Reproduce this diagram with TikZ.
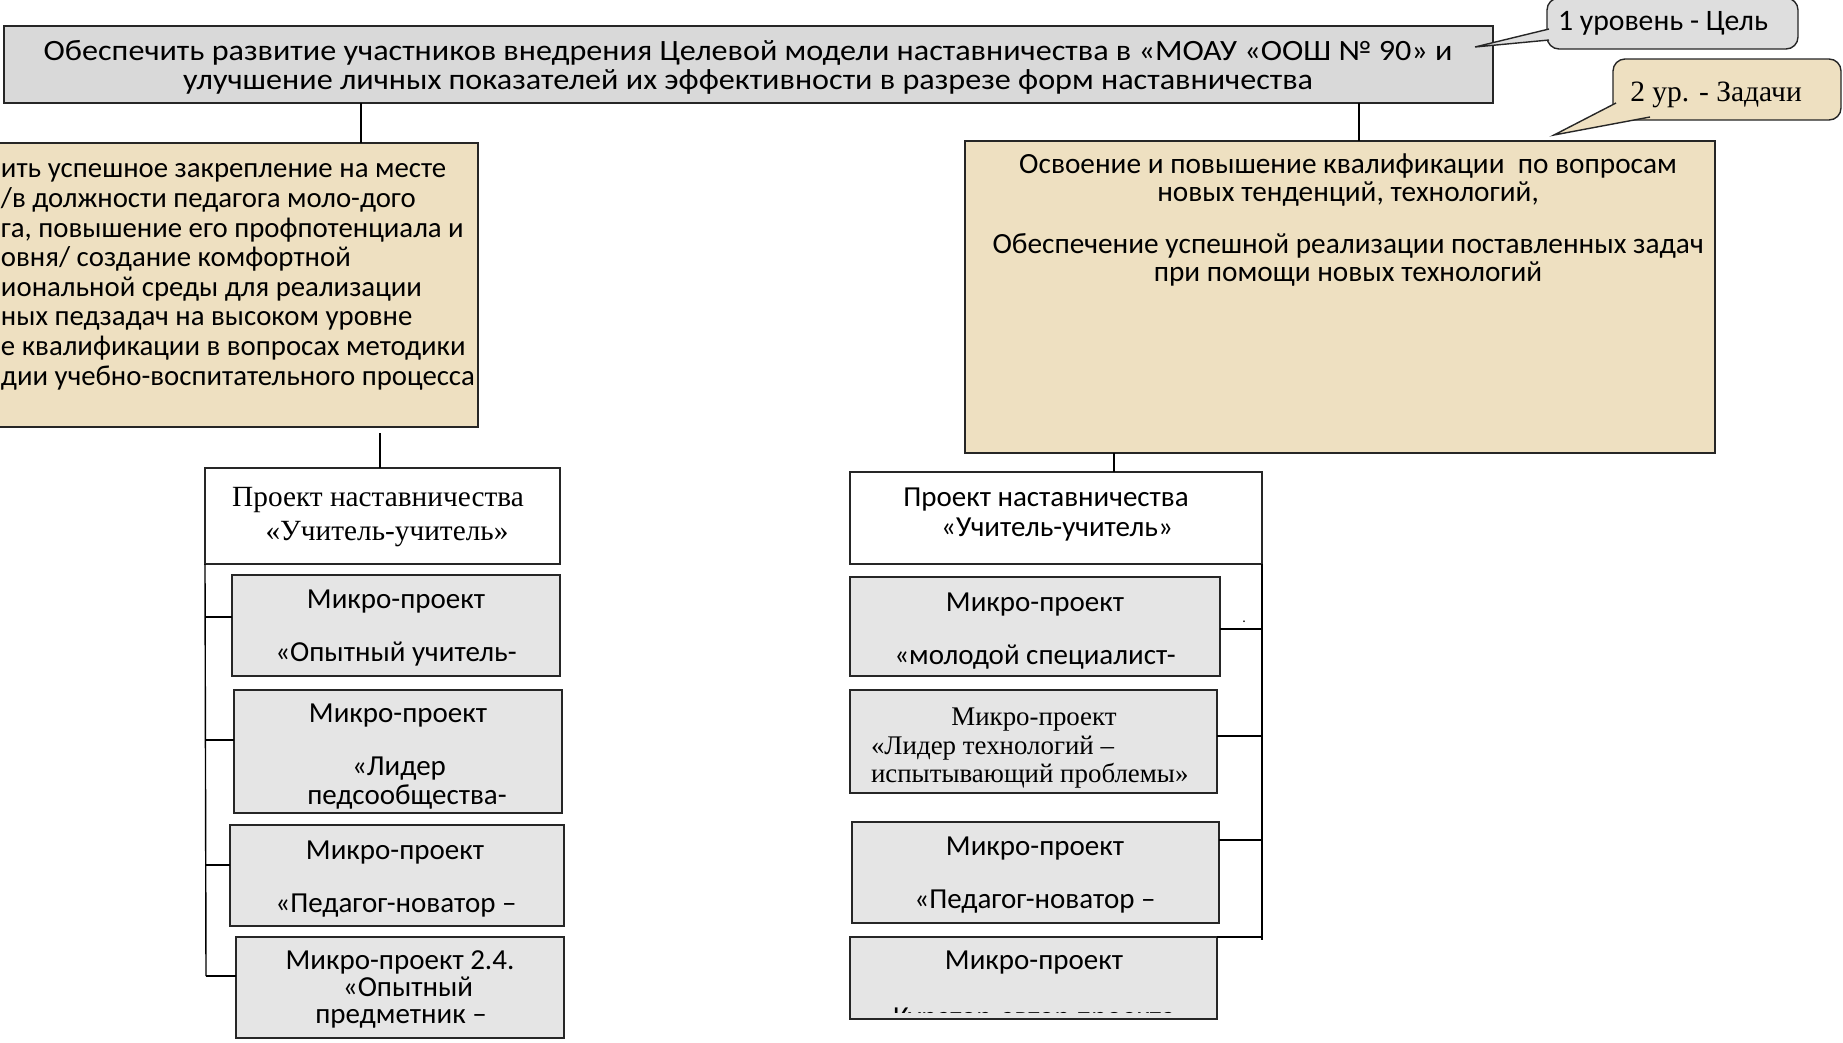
\documentclass[tikz,border=0pt]{standalone}
\usepackage{fontspec}
\setmainfont{Carlito}
\newfontfamily\tnr{Liberation Serif}
\newfontfamily\widecal[FakeStretch=1.09]{Carlito}
\definecolor{parch}{RGB}{238,224,193}
\definecolor{granite}{RGB}{229,229,229}
\definecolor{goalgray}{RGB}{217,217,217}
\definecolor{calgray}{RGB}{222,222,222}
\tikzset{
  bx/.style={draw=black!85, line width=1.4pt, inner sep=0pt, outer sep=0pt, anchor=north west},
  cn/.style={draw=black, line width=1.4pt},
  t/.style={inner sep=0pt, outer sep=0pt, anchor=base},
  tw/.style={inner sep=0pt, outer sep=0pt, anchor=base west},
  fgoal/.style={font=\widecal\fontsize{29.5}{28.5}\selectfont},
  ftr/.style={font=\fontsize{29.3}{27.5}\selectfont},
  ftask/.style={font=\fontsize{28.8}{30}\selectfont},
  fmic/.style={font=\fontsize{29}{31}\selectfont},
  fser/.style={font=\tnr\fontsize{29.3}{32}\selectfont},
  fser2/.style={font=\tnr\fontsize{26.9}{29}\selectfont},
}
\begin{document}
\begin{tikzpicture}[x=1pt,y=-1pt]
\useasboundingbox (0,0) rectangle (1843,1042);
\clip (0,0) rectangle (1843,1042);
\fill[white] (0,0) rectangle (1843,1042);

% named helper coordinates
\coordinate (xL) at (361,0);
\coordinate (xR) at (1359,0);
\coordinate (gapL) at (380,433);
\coordinate (xR2) at (1114,0);
\coordinate (bL1) at (206,617);
\coordinate (bL2) at (206,740);
\coordinate (bL3) at (206,865);
\coordinate (bL4) at (206,976);
\coordinate (bR1) at (1262,629);
\coordinate (bR2) at (1262,736);
\coordinate (bR3) at (1262,840);
\coordinate (bR4) at (1262,937);
\coordinate (spR) at (1262,940);

% boxes
\node[bx, fill=goalgray, minimum width=1489pt, minimum height=77pt] (goal) at (4,26) {};
\node[bx, fill=parch, minimum width=508pt, minimum height=284pt] (taskL) at (-30,143) {};
\node[bx, fill=parch, minimum width=750pt, minimum height=312pt] (taskR) at (965,141) {};
\node[bx, fill=white, minimum width=355pt, minimum height=96pt] (projL) at (205,468) {};
\node[bx, fill=white, minimum width=412pt, minimum height=92pt] (projR) at (850,472) {};

% connectors
\draw[cn] (goal.south -| xL) -- (taskL.north -| xL);
\draw[cn] (goal.south -| xR) -- (taskR.north -| xR);
\draw[cn] (gapL) -- (gapL |- projL.north);
\draw[cn] (taskR.south -| xR2) -- (projR.north -| xR2);
\draw[cn] (projL.south west) -- (bL4);
\draw[cn] (projR.south east) -- (spR);

% micro boxes
\node[bx, fill=granite, minimum width=328pt, minimum height=101pt] (L1) at (232,575) {};
\node[bx, fill=granite, minimum width=328pt, minimum height=123pt] (L2) at (234,690) {};
\node[bx, fill=granite, minimum width=334pt, minimum height=101pt] (L3) at (230,825) {};
\node[bx, fill=granite, minimum width=328pt, minimum height=101pt] (L4) at (236,937) {};
\node[bx, fill=granite, minimum width=370pt, minimum height=99pt] (R1) at (850,577) {};
\node[bx, fill=granite, minimum width=367pt, minimum height=103pt] (R2) at (850,690) {};
\node[bx, fill=granite, minimum width=367pt, minimum height=101pt] (R3) at (852,822) {};
\node[bx, fill=granite, minimum width=367pt, minimum height=82pt] (R4) at (850,937) {};

\draw[cn] (bL1) -- (bL1 -| L1.west);
\draw[cn] (bL2) -- (bL2 -| L2.west);
\draw[cn] (bL3) -- (bL3 -| L3.west);
\draw[cn] (bL4) -- (bL4 -| L4.west);
\draw[cn] (bR1) -- (bR1 -| R1.east);
\draw[cn] (bR2) -- (bR2 -| R2.east);
\draw[cn] (bR3) -- (bR3 -| R3.east);
\draw[cn] (bR4) -- (bR4 -| R4.east);

% callouts
\node[bx, rounded corners=12pt, fill=calgray, minimum width=251pt, minimum height=51pt] (c1) at (1547,-2) {};
\coordinate (c1a) at (1549,29);
\coordinate (c1tip) at (1475,47);
\coordinate (c1b) at (1549,40);
\fill[calgray] (c1a) -- (c1tip) -- (c1b) -- cycle;
\draw[line width=1.4pt, black!85] (c1a) -- (c1tip) -- (c1b);
\node[t, font=\fontsize{29.7}{32}\selectfont] (c1t) at (1663,30) {1 уровень - Цель};

\node[bx, rounded corners=12pt, fill=parch, minimum width=228pt, minimum height=61pt] (c2) at (1613,59) {};
\coordinate (c2a) at (1616,103);
\coordinate (c2tip) at (1554,135);
\coordinate (c2b) at (1650,117);
\fill[parch] (c2a) -- (c2tip) -- (c2b) -- cycle;
\draw[line width=1.4pt, black!85] (c2a) -- (c2tip) -- (c2b);
\node[t, font=\tnr\fontsize{29.5}{32}\selectfont] (c2t) at (1716,101) {2 ур. - Задачи};

% goal text (two lines, one node; base = last line)
\node[t, fgoal, align=center] (g1) at (748,89) {Обеспечить развитие участников внедрения Целевой модели наставничества в «МОАУ «ООШ № 90» и\\улучшение личных показателей их эффективности в разрезе форм наставничества};

% task L text
\node[tw, ftask] (tl1) at (1,177) {ить успешное закрепление на месте};
\node[tw, ftask] (tl2) at (1,207) {/в должности педагога моло-дого};
\node[tw, ftask] (tl3) at (1,237) {га, повышение его профпотенциала и};
\node[tw, ftask] (tl4) at (1,266) {овня/ создание комфортной};
\node[tw, ftask] (tl5) at (1,296) {иональной среды для реализации};
\node[tw, ftask] (tl6) at (1,325) {ных педзадач на высоком уровне};
\node[tw, ftask] (tl7) at (1,355) {е квалификации в вопросах методики};
\node[tw, ftask] (tl8) at (1,385) {дии учебно-воспитательного процесса};

% task R text
\node[t, ftr, align=center] (tr1) at (1348,201) {Освоение и повышение квалификации \ по вопросам\\новых тенденций, технологий,};
\node[t, ftr, align=center] (tr3) at (1348,281) {Обеспечение успешной реализации поставленных задач\\при помощи новых технологий};

% project texts
\node[t, fser] (pl1) at (378,506) {Проект наставничества};
\node[t, fser] (pl2) at (387,540) {«Учитель-учитель»};
\node[t, fmic] (pr1) at (1046,506) {Проект наставничества};
\node[t, fmic] (pr2) at (1057,536) {«Учитель-учитель»};

% left micro texts
\node[t, fmic] (l1a) at (396,608) {Микро-проект};
\node[t, fmic] (l1b) at (396,661) {«Опытный учитель-};
\node[t, fmic] (l2a) at (398,722) {Микро-проект};
\node[t, fmic] (l2b) at (399,775) {«Лидер};
\node[t, fmic] (l2c) at (407,804) {педсообщества-};
\node[t, fmic] (l3a) at (395,859) {Микро-проект};
\node[t, fmic] (l3b) at (396,912) {«Педагог-новатор –};
\node[t, fmic] (l4a) at (400,969) {Микро-проект 2.4.};
\node[t, fmic] (l4b) at (408,996) {«Опытный};
\node[t, fmic] (l4c) at (401,1023) {предметник –};

% right micro texts
\node[t, fmic] (r1a) at (1035,611) {Микро-проект};
\node[t, fmic] (r1b) at (1035,664) {«молодой специалист-};
\node[t, font=\fontsize{14}{16}\selectfont] (dot) at (1244,622) {.};
\begin{scope}
\clip (R2.north west) rectangle (R2.south east);
\node[t, fser2] (r2a) at (1034,725) {Микро-проект};
\node[tw, fser2] (r2b) at (871,754) {«Лидер технологий –};
\node[tw, fser2] (r2c) at (871,782) {испытывающий проблемы»};
\end{scope}
\node[t, fmic] (r3a) at (1035,855) {Микро-проект};
\node[t, fmic] (r3b) at (1035,908) {«Педагог-новатор –};
\node[t, fmic] (r4a) at (1034,969) {Микро-проект};
\coordinate (R4cut) at (1217,1012);
\begin{scope}
\clip (R4.north west) rectangle (R4cut);
\node[t, fmic] (r4b) at (1034,1026) {«Куратор-автор проекта»};
\end{scope}
\end{tikzpicture}
\end{document}
